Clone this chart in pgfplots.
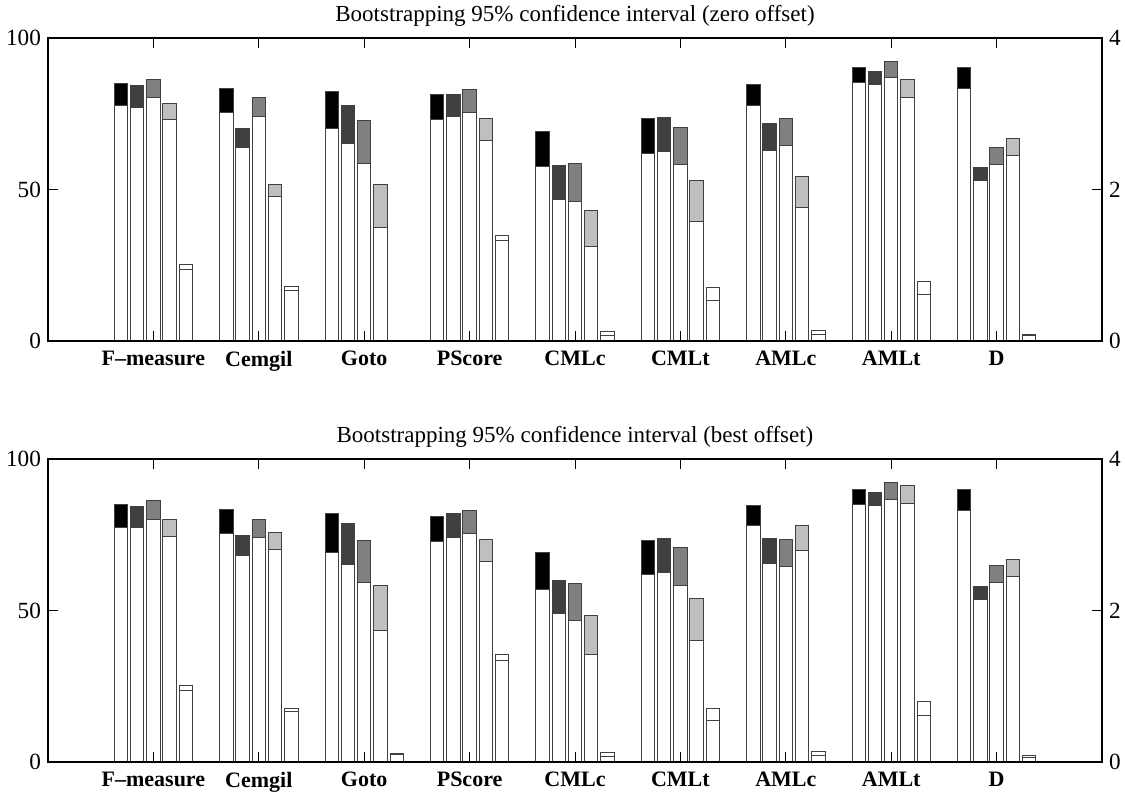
\documentclass[border=0pt]{standalone}
\usepackage{pgfplots}
\usepackage{pgfplotstable}
\pgfplotsset{compat=1.18}
\usepackage{fontspec}
\setmainfont{Liberation Serif}

\definecolor{cA}{gray}{0}
\definecolor{cB}{gray}{0.25}
\definecolor{cC}{gray}{0.5}
\definecolor{cD}{gray}{0.75}
\definecolor{cE}{gray}{1}

% zero offset: lower/upper bound of each of the five bars per measure
\pgfplotstableread{
x l1 u1 l2 u2 l3 u3 l4 u4 l5 u5
1 77.6 85.0 76.9 84.3 80.4 86.2 73.1 78.5 23.6 25.2
2 75.5 83.2 64.0 70.0 74.0 80.2 47.7 51.8 16.8 18.0
3 70.0 82.3 65.3 77.7 58.7 72.7 37.4 51.5 nan nan
4 73.1 81.2 74.1 81.5 75.3 82.9 66.2 73.4 33.1 34.9
5 57.5 69.1 46.7 57.8 46.0 58.7 31.1 43.0 1.8 3.0
6 62.0 73.3 62.4 73.8 58.1 70.5 39.6 52.9 13.4 17.6
7 77.7 84.5 63.0 71.9 64.4 73.5 44.0 54.3 2.3 3.5
8 85.2 90.1 84.5 89.1 86.8 92.4 80.2 86.3 15.3 19.7
9 83.2 90.1 53.1 57.1 58.1 63.7 61.1 66.9 1.8 2.2
}\zerodata

% best offset
\pgfplotstableread{
x l1 u1 l2 u2 l3 u3 l4 u4 l5 u5
1 77.5 85.1 77.3 84.4 80.1 86.4 74.3 79.9 23.5 25.1
2 75.5 83.2 68.0 74.8 74.0 80.1 70.2 75.7 16.7 17.8
3 69.1 82.1 65.3 78.8 59.2 73.2 43.5 58.1 2.5 2.7
4 72.9 81.0 74.1 81.9 75.5 82.9 66.3 73.5 33.4 35.5
5 57.0 69.0 49.1 60.0 46.6 58.9 35.6 48.5 1.8 3.0
6 61.8 73.1 62.5 73.8 58.1 70.7 40.1 53.8 13.6 17.7
7 77.9 84.5 65.4 73.8 64.5 73.3 69.7 78.2 2.0 3.5
8 85.1 90.0 84.5 89.1 86.5 92.3 85.4 91.3 15.5 19.9
9 83.1 89.8 53.7 57.9 59.2 64.8 61.2 66.7 1.6 2.2
}\bestdata

\pgfplotsset{
  barsty/.style={ybar, bar width=0.128, draw=black!75, line width=0.5pt},
  panel/.style={
    scale only axis, width=527pt, height=151.5pt,
    xmin=0, xmax=10, ymin=0, ymax=100,
    xtick={1,...,9},
    xticklabels={\textbf{F--measure},\textbf{Cemgil},\textbf{Goto},\textbf{PScore},\textbf{CMLc},\textbf{CMLt},\textbf{AMLc},\textbf{AMLt},\textbf{D}},
    ytick={0,50,100}, ytick pos=left, xtick pos=both,
    tick align=inside, major tick length=5pt,
    axis on top,
    axis line style={line width=0.6pt},
    every tick/.style={black, line width=0.5pt},
    yticklabel style={font=\fontsize{11.6}{13}\selectfont},
    xticklabel style={font=\fontsize{11}{13}\selectfont, yshift=-1.5pt},
    /pgf/number format/assume math mode=true,
    title style={font=\fontsize{11.5}{13}\selectfont, at={(0.5,1)}, anchor=base, yshift=2pt},
  },
  rpanel/.style={
    scale only axis, width=527pt, height=151.5pt,
    xmin=0, xmax=10, ymin=0, ymax=4, ytick={0,2,4},
    axis y line*=right, axis x line=none,
    tick align=inside, major tick length=5pt,
    axis line style={line width=0.6pt},
    every tick/.style={black, line width=0.5pt},
    tick label style={font=\fontsize{11.6}{13}\selectfont},
    /pgf/number format/assume math mode=true,
  },
}

\newcommand{\bars}[1]{%
  \addplot[barsty, bar shift=-0.307, fill=cA] table[x=x,y=u1]{#1};
  \addplot[barsty, bar shift=-0.307, fill=white] table[x=x,y=l1]{#1};
  \addplot[barsty, bar shift=-0.154, fill=cB] table[x=x,y=u2]{#1};
  \addplot[barsty, bar shift=-0.154, fill=white] table[x=x,y=l2]{#1};
  \addplot[barsty, bar shift=0, fill=cC] table[x=x,y=u3]{#1};
  \addplot[barsty, bar shift=0, fill=white] table[x=x,y=l3]{#1};
  \addplot[barsty, bar shift=0.154, fill=cD] table[x=x,y=u4]{#1};
  \addplot[barsty, bar shift=0.154, fill=white] table[x=x,y=l4]{#1};
  \addplot[barsty, bar shift=0.309, fill=cE] table[x=x,y=u5]{#1};
  \addplot[barsty, bar shift=0.309, fill=white] table[x=x,y=l5]{#1};
}

\begin{document}
\begin{tikzpicture}
\path[use as bounding box] (-24pt,-16pt) rectangle (538.5pt,381pt);

% top panel
\begin{axis}[panel, at={(0pt,210.5pt)}, anchor=south west,
  title={Bootstrapping 95\% confidence interval (zero offset)}]
  \bars{\zerodata}
\end{axis}
\begin{axis}[rpanel, at={(0pt,210.5pt)}, anchor=south west]
\end{axis}

% bottom panel
\begin{axis}[panel, at={(0pt,0pt)}, anchor=south west,
  title={Bootstrapping 95\% confidence interval (best offset)}]
  \bars{\bestdata}
\end{axis}
\begin{axis}[rpanel, at={(0pt,0pt)}, anchor=south west]
\end{axis}
\end{tikzpicture}
\end{document}
